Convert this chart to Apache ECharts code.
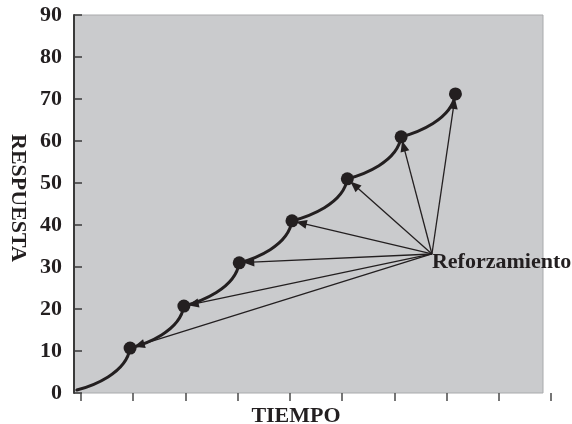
<!DOCTYPE html>
<html>
<head>
<meta charset="utf-8">
<script src="https://cdn.jsdelivr.net/npm/echarts@6/dist/echarts.min.js"></script>
<style>
  html, body { margin: 0; padding: 0; background: #ffffff; }
  #chart { width: 572px; height: 424px; }
</style>
</head>
<body>
<div id="chart"></div>
<script>
// ---- data (x in "tick units" of TIEMPO, y in RESPUESTA) ----
var yTicks = [0, 10, 20, 30, 40, 50, 60, 70, 80, 90];
var xTickValues = [0, 1, 2, 3, 4, 5, 6, 7, 8, 9];
var startPoint = [-0.08, 0.7];
var pointsX = [0.94, 1.97, 3.03, 4.04, 5.10, 6.13, 7.17];
var pointsY = [10.7, 20.7, 31.0, 41.0, 51.0, 61.0, 71.2];
var reinforcement = [6.72, 33.1];
var reinforcementLabel = 'Reforzamiento';
var yName = 'RESPUESTA';
var xName = 'TIEMPO';

// ---- derived structures ----
var dots = pointsX.map(function (x, i) { return [x, pointsY[i]]; });
var curveSegs = [];
var prev = startPoint;
dots.forEach(function (p) { curveSegs.push([prev[0], prev[1], p[0], p[1]]); prev = p; });
var arrowData = dots.map(function (p) { return [reinforcement[0], reinforcement[1], p[0], p[1]]; });

var INK = '#231f20';
var FONT = "'Liberation Serif', 'Times New Roman', serif";

var chart = echarts.init(document.getElementById('chart'), null, { renderer: 'canvas' });

var xMin = -0.134, xMax = 9, grayRight = 8.847;

chart.setOption({
  backgroundColor: '#ffffff',
  animation: false,
  grid: { left: 74, right: 21, top: 15, bottom: 31, containLabel: false, outerBoundsMode: 'none' },
  xAxis: {
    type: 'value', min: xMin, max: xMax,
    name: xName, nameLocation: 'middle', nameGap: 12,
    nameTextStyle: { fontFamily: FONT, fontWeight: 'bold', fontSize: 22, color: INK, verticalAlign: 'top', padding: [0, 33, 0, 0] },
    axisLine: { show: false },
    axisTick: { show: true, customValues: xTickValues, length: 8, inside: false, lineStyle: { color: '#4a4a4a', width: 1.5 } },
    axisLabel: { show: false },
    splitLine: { show: false },
    z: 5
  },
  yAxis: {
    type: 'value', min: 0, max: 90, interval: 10,
    name: yName, nameLocation: 'middle', nameGap: 45, nameRotate: -90,
    nameTextStyle: { fontFamily: FONT, fontWeight: 'bold', fontSize: 22, color: INK, padding: [0, 12, 12, 0] },
    axisLine: { show: true, onZero: false, lineStyle: { color: '#3a3a3a', width: 2 } },
    axisTick: { show: true, inside: true, length: 8, lineStyle: { color: '#3a3a3a', width: 1.5 } },
    axisLabel: { fontFamily: FONT, fontWeight: 'bold', fontSize: 22, color: INK, margin: 12 },
    splitLine: { show: false },
    z: 5
  },
  series: [
    {
      type: 'line', data: [], z: 0, silent: true,
      markArea: {
        silent: true,
        itemStyle: { color: '#cacbcd', borderColor: '#a9aaac', borderWidth: 1, opacity: 1 },
        data: [[{ xAxis: xMin, yAxis: 0 }, { xAxis: grayRight, yAxis: 90 }]]
      }
    },
    {
      type: 'custom', z: 3, silent: true,
      data: arrowData,
      encode: { x: [0, 2], y: [1, 3] },
      renderItem: function (params, api) {
        var p0 = api.coord([api.value(0), api.value(1)]);
        var p1 = api.coord([api.value(2), api.value(3)]);
        var dx = p1[0] - p0[0], dy = p1[1] - p0[1];
        var len = Math.sqrt(dx * dx + dy * dy);
        var ux = dx / len, uy = dy / len;
        var tip = [p1[0] - ux * 4, p1[1] - uy * 4];
        var base = [tip[0] - ux * 11, tip[1] - uy * 11];
        var nx = -uy, ny = ux;
        return {
          type: 'group',
          children: [
            { type: 'line', shape: { x1: p0[0], y1: p0[1], x2: base[0] + ux * 2, y2: base[1] + uy * 2 },
              style: { stroke: INK, lineWidth: 1.3 } },
            { type: 'polygon', shape: { points: [tip, [base[0] + nx * 4.5, base[1] + ny * 4.5], [base[0] - nx * 4.5, base[1] - ny * 4.5]] },
              style: { fill: INK } }
          ]
        };
      }
    },
    {
      type: 'custom', z: 4, silent: true,
      data: curveSegs,
      encode: { x: [0, 2], y: [1, 3] },
      renderItem: function (params, api) {
        var p0 = api.coord([api.value(0), api.value(1)]);
        var p3 = api.coord([api.value(2), api.value(3)]);
        var dx = p3[0] - p0[0], dy = p3[1] - p0[1];
        return {
          type: 'bezierCurve',
          shape: {
            x1: p0[0], y1: p0[1], x2: p3[0], y2: p3[1],
            cpx1: p0[0] + 0.3 * dx, cpy1: p0[1] + 0.1 * dy,
            cpx2: p0[0] + 0.93 * dx, cpy2: p0[1] + 0.4 * dy
          },
          style: { stroke: INK, lineWidth: 3, fill: null, lineCap: 'round' }
        };
      }
    },
    {
      type: 'scatter', z: 6, silent: true,
      data: dots, symbol: 'circle', symbolSize: 13,
      itemStyle: { color: INK, opacity: 1 }
    },
    {
      type: 'scatter', z: 6, silent: true,
      data: [{ value: reinforcement, name: reinforcementLabel }],
      symbolSize: 0,
      itemStyle: { opacity: 1 },
      label: {
        show: true, position: 'right', distance: 0, offset: [0, 8],
        formatter: '{b}', fontFamily: FONT, fontWeight: 'bold', fontSize: 22, color: INK
      }
    }
  ]
});
</script>
</body>
</html>
